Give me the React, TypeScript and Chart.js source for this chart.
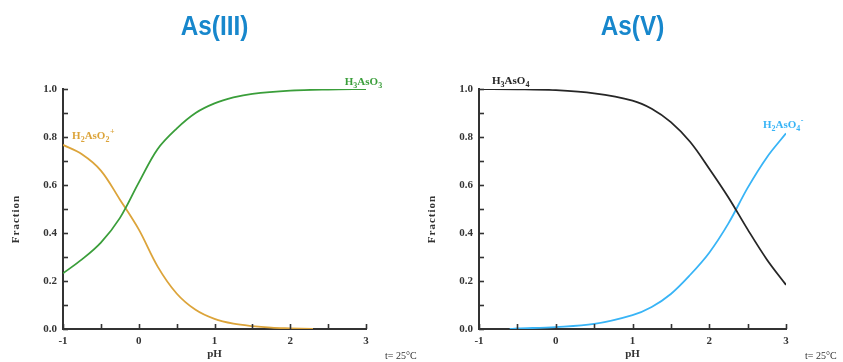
import React, { useEffect, useRef } from "react";
import { Chart, registerables } from "chart.js";

Chart.register(...registerables);

// ---- Data ----
const titleLeft = "As(III)";
const titleRight = "As(V)";

const phGreen = [-1, -0.75, -0.5, -0.25, 0, 0.25, 0.5, 0.75, 1, 1.25, 1.5, 2, 2.5, 3];
const h3aso3 = [0.232, 0.29, 0.36, 0.462, 0.61, 0.75, 0.835, 0.9, 0.94, 0.965, 0.98, 0.993, 0.998, 1.0];

const phGold = [-1, -0.75, -0.5, -0.25, 0, 0.25, 0.5, 0.75, 1, 1.25, 1.5, 1.75, 2, 2.3];
const h2aso2Plus = [0.767, 0.728, 0.66, 0.54, 0.415, 0.26, 0.148, 0.08, 0.042, 0.022, 0.012, 0.006, 0.003, 0.0];

const phBlack = [-1, -0.5, 0, 0.5, 1, 1.25, 1.5, 1.75, 2, 2.25, 2.5, 2.75, 3];
const h3aso4 = [1.0, 0.999, 0.995, 0.982, 0.952, 0.918, 0.862, 0.78, 0.668, 0.548, 0.415, 0.29, 0.184];

const phBlue = [-0.6, -0.5, 0, 0.5, 1, 1.25, 1.5, 1.75, 2, 2.25, 2.5, 2.75, 3];
const h2aso4Minus = [0, 0.002, 0.008, 0.021, 0.058, 0.092, 0.146, 0.225, 0.318, 0.44, 0.588, 0.715, 0.815];

const xTickValues = [-1, 0, 1, 2, 3];
const yTickValues = [0, 0.2, 0.4, 0.6, 0.8, 1.0];

type Part = [string, "n" | "sub" | "sup"];

const labelH3AsO3: Part[] = [["H", "n"], ["3", "sub"], ["AsO", "n"], ["3", "sub"]];
const labelH2AsO2: Part[] = [["H", "n"], ["2", "sub"], ["AsO", "n"], ["2", "sub"], ["+", "sup"]];
const labelH3AsO4: Part[] = [["H", "n"], ["3", "sub"], ["AsO", "n"], ["4", "sub"]];
const labelH2AsO4: Part[] = [["H", "n"], ["2", "sub"], ["AsO", "n"], ["4", "sub"], ["-", "sup"]];

const TITLE_BLUE = "#1787cc";
const GREEN = "#3a9e3a";
const GOLD = "#dca43a";
const BLACK = "#262626";
const BLUE = "#38b4f6";
const AXIS = "#333333";
const SERIF = "'Liberation Serif', 'Times New Roman', serif";

function drawChem(ctx: CanvasRenderingContext2D, x: number, y: number, parts: Part[], color: string) {
  ctx.save();
  ctx.fillStyle = color;
  ctx.textAlign = "left";
  ctx.textBaseline = "alphabetic";
  let cx = x;
  for (const [t, kind] of parts) {
    if (kind === "n") {
      ctx.font = `bold 11px ${SERIF}`;
      ctx.fillText(t, cx, y);
    } else if (kind === "sub") {
      ctx.font = `bold 8px ${SERIF}`;
      ctx.fillText(t, cx, y + 3);
    } else {
      ctx.font = `bold 8px ${SERIF}`;
      ctx.fillText(t, cx + 0.5, y - 5);
    }
    cx += ctx.measureText(t).width;
  }
  ctx.restore();
}

interface Lbl {
  parts: Part[];
  x: number; // pH
  y: number; // fraction
  color: string;
}

function makeConfig(opts: {
  title: string;
  datasets: any[];
  labels: Lbl[];
  yWidth: number;
  padRight: number;
}) {
  const decor = {
    id: "decor",
    afterDraw(chart: any) {
      const ctx: CanvasRenderingContext2D = chart.ctx;
      const { left, right, bottom } = chart.chartArea;
      const xs = chart.scales.x;
      const ys = chart.scales.y;
      ctx.save();
      // inward tick marks
      ctx.strokeStyle = AXIS;
      ctx.lineWidth = 1.6;
      for (const t of ys.ticks) {
        const py = Math.round(ys.getPixelForValue(t.value)) + 0.5;
        ctx.beginPath();
        ctx.moveTo(left, py);
        ctx.lineTo(left + 5, py);
        ctx.stroke();
      }
      for (const t of xs.ticks) {
        const px = Math.round(xs.getPixelForValue(t.value)) + 0.5;
        ctx.beginPath();
        ctx.moveTo(px, bottom);
        ctx.lineTo(px, bottom - 5);
        ctx.stroke();
      }
      // title
      ctx.fillStyle = TITLE_BLUE;
      ctx.font = `bold 27px 'Liberation Sans Narrow', 'Liberation Sans', Arial, sans-serif`;
      try {
        (ctx as any).fontStretch = "condensed";
      } catch (e) {}
      ctx.textAlign = "center";
      ctx.textBaseline = "middle";
      ctx.save();
      ctx.translate((left + right) / 2, 28);
      ctx.scale(0.9, 1);
      ctx.fillText(opts.title, 0, 0);
      ctx.restore();
      try {
        (ctx as any).fontStretch = "normal";
      } catch (e) {}
      // axis titles
      ctx.fillStyle = AXIS;
      ctx.font = `bold 11px ${SERIF}`;
      ctx.textAlign = "center";
      ctx.textBaseline = "alphabetic";
      ctx.fillText("pH", (left + right) / 2, 357);
      ctx.save();
      ctx.translate(left - 47, 219);
      ctx.rotate(-Math.PI / 2);
      ctx.font = `bold 11px ${SERIF}`;
      try {
        (ctx as any).letterSpacing = "1px";
      } catch (e) {}
      ctx.textBaseline = "middle";
      ctx.fillText("Fraction", 0, 0);
      ctx.restore();
      ctx.font = `10px ${SERIF}`;
      ctx.textAlign = "left";
      ctx.fillText("t= 25°C", right + 19, 359);
      // series labels
      for (const l of opts.labels) {
        drawChem(ctx, xs.getPixelForValue(l.x), ys.getPixelForValue(l.y), l.parts, l.color);
      }
      ctx.restore();
    },
  };

  return {
    type: "line" as const,
    data: { datasets: opts.datasets },
    options: {
      animation: false as const,
      responsive: false,
      maintainAspectRatio: false,
      layout: { padding: { top: 89, right: opts.padRight, left: 0, bottom: 0 } },
      plugins: { legend: { display: false }, tooltip: { enabled: false }, title: { display: false } },
      elements: { point: { radius: 0 } },
      scales: {
        x: {
          type: "linear" as const,
          min: -1,
          max: 3,
          afterFit: (s: any) => {
            s.height = 33;
          },
          afterBuildTicks: (s: any) => {
            const arr = [];
            for (let i = 0; i <= 8; i++) arr.push({ value: -1 + i * 0.5 });
            s.ticks = arr;
          },
          grid: { display: false, drawTicks: false },
          border: { display: true, color: AXIS, width: 2 },
          ticks: {
            autoSkip: false,
            maxRotation: 0,
            padding: 6,
            color: AXIS,
            font: { family: SERIF, size: 11, weight: "bold" as const },
            callback: (v: any) => (xTickValues.includes(Number(v)) ? String(v) : ""),
          },
        },
        y: {
          type: "linear" as const,
          min: 0,
          max: 1,
          afterFit: (s: any) => {
            s.width = opts.yWidth;
          },
          afterBuildTicks: (s: any) => {
            const arr = [];
            for (let i = 0; i <= 10; i++) arr.push({ value: i / 10 });
            s.ticks = arr;
          },
          grid: { display: false, drawTicks: false },
          border: { display: true, color: AXIS, width: 2 },
          ticks: {
            autoSkip: false,
            padding: 6,
            color: AXIS,
            font: { family: SERIF, size: 11, weight: "bold" as const },
            callback: (v: any) => {
              const n = Number(v);
              return yTickValues.some((t) => Math.abs(t - n) < 1e-6) ? n.toFixed(1) : "";
            },
          },
        },
      },
    },
    plugins: [decor],
  };
}

function line(ph: number[], vals: number[], color: string) {
  return {
    data: ph.map((p, i) => ({ x: p, y: vals[i] })),
    borderColor: color,
    borderWidth: 1.8,
    pointRadius: 0,
    fill: false,
    tension: 0.35,
    capBezierPoints: true,
  };
}

export default function App() {
  const leftRef = useRef<HTMLCanvasElement>(null);
  const rightRef = useRef<HTMLCanvasElement>(null);

  useEffect(() => {
    document.body.style.margin = "0";
    const c1 = new Chart(
      leftRef.current as HTMLCanvasElement,
      makeConfig({
        title: titleLeft,
        datasets: [line(phGreen, h3aso3, GREEN), line(phGold, h2aso2Plus, GOLD)],
        labels: [
          { parts: labelH3AsO3, x: 2.72, y: 1.017, color: GREEN },
          { parts: labelH2AsO2, x: -0.88, y: 0.79, color: GOLD },
        ],
        yWidth: 63,
        padRight: 55,
      }) as any
    );
    const c2 = new Chart(
      rightRef.current as HTMLCanvasElement,
      makeConfig({
        title: titleRight,
        datasets: [line(phBlack, h3aso4, BLACK), line(phBlue, h2aso4Minus, BLUE)],
        labels: [
          { parts: labelH3AsO4, x: -0.83, y: 1.02, color: BLACK },
          { parts: labelH2AsO4, x: 2.7, y: 0.8375, color: BLUE },
        ],
        yWidth: 58,
        padRight: 57,
      }) as any
    );
    return () => {
      c1.destroy();
      c2.destroy();
    };
  }, []);

  return (
    <div style={{ position: "fixed", left: 0, top: 0, width: 843, height: 362, background: "#fff", overflow: "hidden" }}>
      <canvas ref={leftRef} width={421} height={362} style={{ position: "absolute", left: 0, top: 0, width: 421, height: 362 }} />
      <canvas ref={rightRef} width={422} height={362} style={{ position: "absolute", left: 421, top: 0, width: 422, height: 362 }} />
    </div>
  );
}
